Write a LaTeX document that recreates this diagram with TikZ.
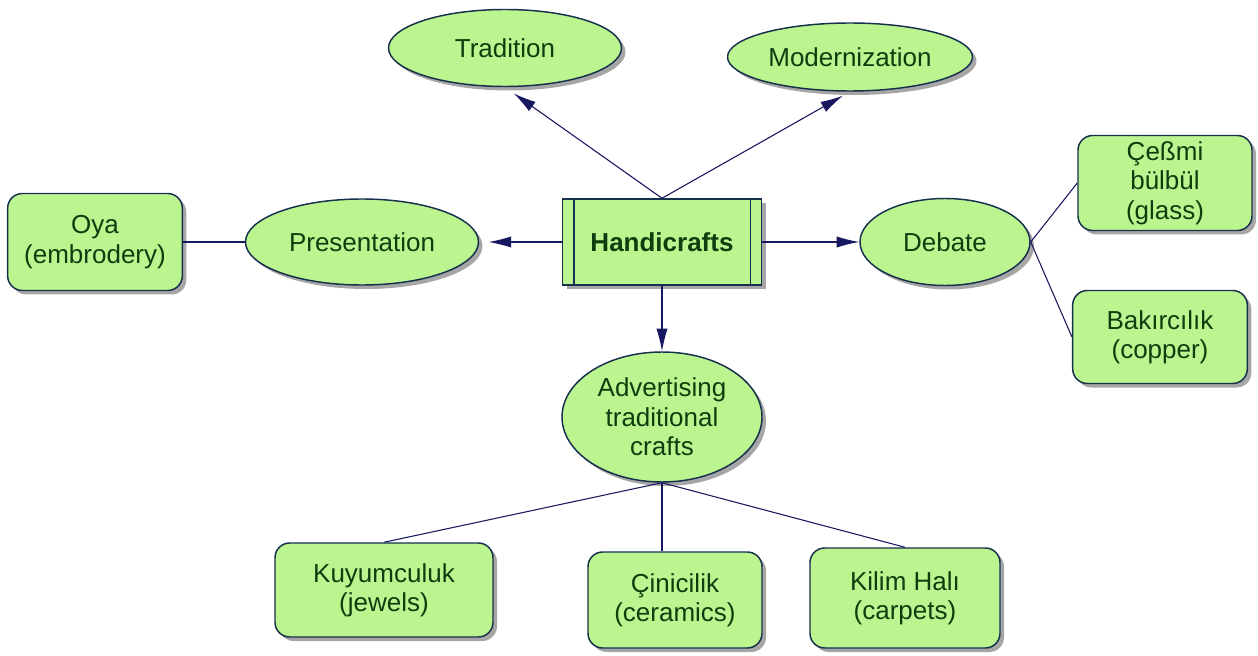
\documentclass[tikz,border=0pt]{standalone}
\usepackage{fontspec}
\setmainfont{Liberation Sans}
\usetikzlibrary{shapes.geometric,shadows,arrows.meta}

\definecolor{leaf}{RGB}{188,244,144}
\definecolor{rim}{RGB}{22,48,78}
\definecolor{ink}{RGB}{14,62,14}
\definecolor{wire}{RGB}{24,24,96}
\definecolor{tip}{RGB}{14,14,112}

\tikzset{every picture/.style={line width=0.75pt},
  bubble/.style={ellipse, draw=rim, line width=1.1pt, fill=leaf, text=ink, inner sep=0pt, align=center,
    drop shadow={shadow xshift=3pt, shadow yshift=-3pt, fill=black!35, opacity=1}},
  card/.style={rectangle, rounded corners=11pt, draw=rim, line width=1.1pt, fill=leaf, text=ink, inner sep=0pt, align=center,
    minimum width=131pt, minimum height=72pt,
    drop shadow={shadow xshift=3pt, shadow yshift=-3pt, fill=black!35, opacity=1}},
  hub/.style={rectangle, draw=rim, line width=1.1pt, fill=leaf, text=ink, inner sep=0pt, font=\bfseries,
    minimum width=149.25pt, minimum height=64.5pt,
    drop shadow={shadow xshift=3pt, shadow yshift=-3pt, fill=black!35, opacity=1}},
  link/.style={draw=wire, line width=0.8pt},
  pointer/.style={link, -{Latex[length=17pt,width=8.5pt]}, color=wire, fill=tip}
}

\begin{document}
\begin{tikzpicture}[x=0.75pt,y=0.75pt,yscale=-1,xscale=1]
\fontsize{19.5pt}{22pt}\selectfont
\useasboundingbox (0,0) rectangle (1258,656);

%Shape: Rectangle [id:hub]
\node [hub] (hand) at (662,242) {Handicrafts};
\draw [draw=rim, line width=1.1pt] ([xshift=9pt]hand.north west) -- ([xshift=9pt]hand.south west) ;
\draw [draw=rim, line width=1.1pt] ([xshift=-9pt]hand.north east) -- ([xshift=-9pt]hand.south east) ;

%Shape: Ellipse [id:top]
\node [bubble, minimum width=174.75pt, minimum height=57.75pt] (tradition) at (505,48) {Tradition};
\node [bubble, minimum width=183.75pt, minimum height=51pt] (modern) at (850,57) {Modernization};
%Shape: Ellipse [id:sides]
\node [bubble, minimum width=174.75pt, minimum height=64.5pt] (presentation) at (362,242) {Presentation};
\node [bubble, minimum width=127.5pt, minimum height=65.25pt] (debate) at (945,242) {Debate};
%Shape: Ellipse [id:bottom]
\node [bubble, minimum width=150pt, minimum height=97.5pt] (advert) at (662,417) {Advertising\\traditional\\crafts};

%Shape: Rectangle [id:leaves]
\node [card, minimum height=72.75pt] (oya) at (95,242) {Oya\\(embrodery)};
\node [card, minimum width=130.5pt, minimum height=71.25pt] (cesmi) at (1165,183) {Çeßmi\\bülbül\\(glass)};
\node [card, minimum height=69.75pt] (bakir) at (1160,337) {Bakırcılık\\(copper)};
\node [card, minimum width=163.5pt, minimum height=70.5pt] (kuyum) at (384,590) {Kuyumculuk\\(jewels)};
\node [card, minimum width=130.5pt] (cini) at (675,600) {Çinicilik\\(ceramics)};
\node [card, minimum width=142.5pt, minimum height=75pt] (kilim) at (905,598) {Kilim Halı\\(carpets)};

%Straight Lines [id:arrows]
\draw [pointer, shorten >=8pt] (hand.north) -- (tradition.south) ;
\draw [pointer, shorten >=6pt] (hand.north) -- (modern.south) ;
\draw [pointer, shorten >=7pt] (hand.west) -- (presentation.east) ;
\draw [pointer] (hand.east) -- (debate.west) ;
\draw [pointer] (hand.south) -- (advert.north) ;

%Straight Lines [id:plain]
\draw [link] (presentation.west) -- (oya.east) ;
\draw [link] (debate.east) -- (cesmi.west) ;
\draw [link] (debate.east) -- (bakir.west) ;
\draw [link] (advert.south) -- (kuyum.north) ;
\draw [link] (advert.south) -- (advert.south |- cini.north) ;
\draw [link] (advert.south) -- (kilim.north) ;

\end{tikzpicture}
\end{document}
